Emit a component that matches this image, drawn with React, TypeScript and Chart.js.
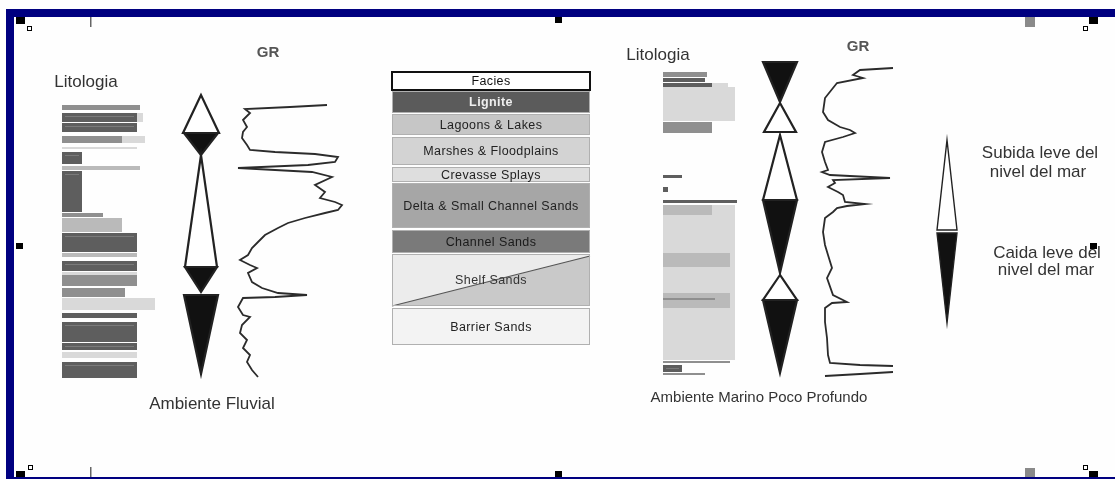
import { useEffect, useRef } from 'react';
import { Chart, registerables } from 'chart.js';

Chart.register(...registerables);

const CANVAS_W = 1115;
const CANVAS_H = 479;

// Gamma-ray log, fluvial well: [GR reading (x), depth (y)]
const leftGR: [number, number][] = [
  [327, 105], [290, 107], [245, 109], [250, 113], [243, 120], [247, 127], [243, 132], [242, 138],
  [247, 145], [250, 150], [275, 152], [315, 154], [338, 157], [335, 162], [308, 165], [238, 168],
  [275, 170], [312, 172], [332, 177], [315, 185], [325, 192], [320, 198], [335, 202], [342, 205],
  [338, 210], [325, 213], [305, 218], [288, 223], [278, 228], [265, 235], [258, 242], [252, 248],
  [248, 255], [240, 260], [250, 265], [257, 268], [248, 273], [252, 282], [262, 288], [278, 293],
  [307, 295], [275, 297], [243, 298], [238, 307], [243, 315], [250, 317], [242, 325], [240, 333],
  [247, 340], [243, 348], [250, 355], [247, 362], [252, 370], [258, 377],
];

// Gamma-ray log, shallow marine well
const rightGR: [number, number][] = [
  [893, 68], [860, 70], [853, 75], [863, 78], [837, 83], [833, 88], [825, 98], [823, 112],
  [828, 120], [840, 127], [850, 130], [855, 133], [843, 137], [825, 142], [822, 152], [825, 162],
  [828, 170], [822, 172], [830, 175], [890, 178], [833, 180], [835, 183], [828, 187], [838, 192],
  [843, 195], [845, 202], [865, 204], [847, 206], [837, 208], [833, 212], [825, 218], [823, 232],
  [825, 245], [828, 255], [832, 268], [827, 278], [833, 295], [847, 302], [832, 303], [825, 308],
  [825, 322], [827, 338], [828, 355], [830, 363], [860, 365], [893, 366],
];
const rightGRBase: [number, number][] = [[825, 376], [860, 374], [893, 372]];

// Lithology beds: [top, base, extent, lithology class]
const leftLithoStart = 62;
const leftLitho: [number, number, number, string][] = [
  [105, 110, 140, 'M'], [113, 122, 143, 'V'], [113, 122, 137, 'D'], [123, 132, 137, 'D'],
  [136, 143, 145, 'V'], [136, 143, 122, 'M'], [147, 149, 137, 'V'], [152, 164, 82, 'D'],
  [166, 170, 140, 'L'], [171, 212, 82, 'D'], [213, 217, 103, 'M'], [218, 232, 122, 'L'],
  [233, 252, 137, 'D'], [253, 257, 137, 'L'], [261, 271, 137, 'D'], [272, 275, 137, 'V'],
  [275, 286, 137, 'M'], [288, 297, 125, 'M'], [298, 310, 155, 'V'], [313, 318, 137, 'D'],
  [322, 342, 137, 'D'], [343, 350, 137, 'D'], [352, 358, 137, 'V'], [362, 378, 137, 'D'],
];

const rightLithoStart = 663;
const rightLitho: [number, number, number, string][] = [
  [72, 77, 707, 'M'], [78, 82, 705, 'D'], [83, 87, 728, 'V'], [83, 87, 712, 'D'],
  [87, 121, 735, 'V'], [122, 133, 712, 'M'], [175, 178, 682, 'D'], [187, 192, 668, 'D'],
  [200, 203, 737, 'D'], [205, 360, 735, 'V'], [205, 215, 712, 'L'], [253, 267, 730, 'L'],
  [293, 308, 730, 'L'], [298, 300, 715, 'M'], [361, 363, 730, 'M'], [365, 372, 682, 'D'],
  [373, 375, 705, 'M'],
];

// Sea-level triangles: [apex, base, half-width, filled]
const leftTriangles: [number, number, number, boolean][] = [
  [95, 133, 18, false], [155, 133, 17, true], [155, 267, 16, false],
  [292, 267, 16, true], [374, 295, 17, true],
];
const rightTriangles: [number, number, number, boolean][] = [
  [102, 62, 17, true], [103, 132, 16, false], [135, 200, 17, false],
  [273, 200, 17, true], [275, 300, 17, false], [373, 300, 17, true],
];
const legendTriangles: [number, number, number, boolean][] = [
  [140, 230, 10, false], [323, 233, 10, true],
];

// Facies legend
const faciesNames = [
  'Facies', 'Lignite', 'Lagoons & Lakes', 'Marshes & Floodplains', 'Crevasse Splays',
  'Delta & Small Channel Sands', 'Channel Sands', 'Shelf Sands', 'Barrier Sands',
];
const faciesTop = [72, 91, 114, 137, 167, 183, 230, 254, 308];
const faciesBase = [90, 113, 135, 165, 182, 228, 253, 306, 345];

const shade: Record<string, string> = { D: '#5e5e5e', M: '#8f8f8f', L: '#bababa', V: '#d9d9d9' };
const faciesFill = ['#ffffff', '#5b5b5b', '#c6c6c6', '#d3d3d3', '#dedede', '#a6a6a6', '#7a7a7a', '#ebebeb', '#f3f3f3'];
const faciesText = ['#111', '#eeeeee', '#222', '#222', '#222', '#222', '#1a1a1a', '#333', '#222'];

const FONT = '"Liberation Sans", Arial, sans-serif';

const labels: { t: string; x: number; y: number; size: number; color: string; bold?: boolean }[] = [
  { t: 'GR', x: 268, y: 53, size: 15, color: '#555', bold: true },
  { t: 'GR', x: 858, y: 47, size: 15, color: '#555', bold: true },
  { t: 'Litologia', x: 86, y: 82, size: 17, color: '#333' },
  { t: 'Litologia', x: 658, y: 55, size: 17, color: '#333' },
  { t: 'Ambiente Fluvial', x: 212, y: 404, size: 17, color: '#333' },
  { t: 'Ambiente Marino Poco Profundo', x: 759, y: 398, size: 15, color: '#333' },
  { t: 'Subida leve del', x: 1040, y: 153, size: 17, color: '#333' },
  { t: 'nivel del mar', x: 1038, y: 172, size: 17, color: '#333' },
  { t: 'Caida leve del', x: 1047, y: 253, size: 17, color: '#333' },
  { t: 'nivel del mar', x: 1046, y: 270, size: 17, color: '#333' },
];

const diagramPlugin = {
  id: 'diagram',
  beforeDraw(chart: any) {
    const ctx = chart.ctx;
    ctx.save();
    ctx.fillStyle = '#fefefe';
    ctx.fillRect(0, 0, chart.width, chart.height);
    ctx.restore();
  },
  beforeDatasetsDraw(chart: any) {
    const ctx: CanvasRenderingContext2D = chart.ctx;
    const xs = chart.scales.x;
    const ys = chart.scales.y;
    const px = (v: number) => xs.getPixelForValue(v);
    const py = (v: number) => ys.getPixelForValue(v);
    ctx.save();

    const drawLitho = (start: number, beds: [number, number, number, string][]) => {
      for (const [top, base, ext, cls] of beds) {
        ctx.fillStyle = shade[cls];
        ctx.fillRect(px(start), py(top), px(ext) - px(start), py(base) - py(top));
        if (cls === 'D' && base - top > 6) {
          ctx.strokeStyle = 'rgba(150,150,150,0.5)';
          ctx.lineWidth = 1;
          ctx.beginPath();
          ctx.moveTo(px(start) + 3, py(top) + 3.5);
          ctx.lineTo(px(ext) - 3, py(top) + 3.5);
          ctx.stroke();
        }
      }
    };
    drawLitho(leftLithoStart, leftLitho);
    drawLitho(rightLithoStart, rightLitho);

    // facies legend
    const fx0 = px(392);
    const fx1 = px(590);
    for (let i = 0; i < faciesNames.length; i++) {
      const t = py(faciesTop[i]);
      const b = py(faciesBase[i]);
      if (i === 7) {
        ctx.fillStyle = '#ececec';
        ctx.fillRect(fx0, t, fx1 - fx0, b - t);
        ctx.fillStyle = '#c9c9c9';
        ctx.beginPath();
        ctx.moveTo(fx0, b);
        ctx.lineTo(fx1, py(256));
        ctx.lineTo(fx1, b);
        ctx.closePath();
        ctx.fill();
        ctx.strokeStyle = '#555';
        ctx.lineWidth = 1.2;
        ctx.beginPath();
        ctx.moveTo(fx0, b);
        ctx.lineTo(fx1, py(256));
        ctx.stroke();
      } else {
        ctx.fillStyle = faciesFill[i];
        ctx.fillRect(fx0, t, fx1 - fx0, b - t);
      }
      if (i === 0) {
        ctx.strokeStyle = '#111';
        ctx.lineWidth = 2;
        ctx.strokeRect(fx0, t, fx1 - fx0, b - t);
      } else {
        ctx.strokeStyle = '#b0b0b0';
        ctx.lineWidth = 1;
        ctx.strokeRect(fx0 + 0.5, t + 0.5, fx1 - fx0 - 1, b - t - 1);
      }
      ctx.fillStyle = faciesText[i];
      ctx.font = `${i === 1 ? 'bold ' : ''}12.5px ${FONT}`;
      ctx.textAlign = 'center';
      ctx.textBaseline = 'middle';
      (ctx as any).letterSpacing = '0.4px';
      ctx.fillText(faciesNames[i], (fx0 + fx1) / 2, (t + b) / 2 + 1);
      (ctx as any).letterSpacing = '0px';
    }

    // triangles
    const drawTri = (cx: number, tris: [number, number, number, boolean][], lw: number) => {
      for (const [apex, base, hw, filled] of tris) {
        ctx.beginPath();
        ctx.moveTo(px(cx), py(apex));
        ctx.lineTo(px(cx - hw), py(base));
        ctx.lineTo(px(cx + hw), py(base));
        ctx.closePath();
        ctx.fillStyle = filled ? '#111' : '#ffffff';
        ctx.fill();
        ctx.strokeStyle = '#222';
        ctx.lineWidth = lw;
        ctx.lineJoin = 'miter';
        ctx.stroke();
      }
    };
    drawTri(201, leftTriangles, 2.2);
    drawTri(780, rightTriangles, 2.2);
    drawTri(947, legendTriangles, 1.4);

    // labels
    ctx.textAlign = 'center';
    ctx.textBaseline = 'middle';
    for (const l of labels) {
      ctx.fillStyle = l.color;
      ctx.font = `${l.bold ? 'bold ' : ''}${l.size}px ${FONT}`;
      ctx.fillText(l.t, px(l.x), py(l.y));
    }
    ctx.restore();
  },
  afterDraw(chart: any) {
    const ctx: CanvasRenderingContext2D = chart.ctx;
    ctx.save();
    // window frame
    ctx.fillStyle = '#000080';
    ctx.fillRect(6, 9, CANVAS_W - 6, 8);
    ctx.fillRect(6, 9, 8, CANVAS_H - 9);
    ctx.fillRect(6, 477, CANVAS_W - 6, 2);
    // selection handles
    ctx.fillStyle = '#000';
    const solid = [[16, 17, 9, 7], [1089, 17, 9, 7], [16, 471, 9, 6], [1089, 471, 9, 6],
      [555, 17, 7, 6], [555, 471, 7, 6], [16, 243, 7, 6], [1090, 243, 7, 6]];
    for (const [a, b, w, h] of solid) ctx.fillRect(a, b, w, h);
    ctx.strokeStyle = '#000';
    ctx.lineWidth = 1;
    const hollow = [[27.5, 26.5], [1083.5, 26.5], [28.5, 465.5], [1083.5, 465.5]];
    for (const [a, b] of hollow) ctx.strokeRect(a, b, 4, 4);
    ctx.fillStyle = '#666';
    ctx.fillRect(90, 17, 1.5, 10);
    ctx.fillRect(90, 467, 1.5, 10);
    ctx.fillStyle = '#8a8a8a';
    ctx.fillRect(1025, 17, 10, 10);
    ctx.fillRect(1025, 468, 10, 9);
    ctx.restore();
  },
};

export default function App() {
  const ref = useRef<HTMLCanvasElement | null>(null);
  useEffect(() => {
    if (!ref.current) return;
    const toPts = (a: [number, number][]) => a.map(([x, y]) => ({ x, y }));
    const lineStyle = {
      showLine: true,
      pointRadius: 0,
      borderColor: '#2b2b2b',
      borderWidth: 1.8,
      tension: 0,
      fill: false,
    };
    const chart = new Chart(ref.current, {
      type: 'scatter',
      data: {
        datasets: [
          { label: 'GR fluvial', data: toPts(leftGR), ...lineStyle },
          { label: 'GR marino', data: toPts(rightGR), ...lineStyle },
          { label: 'GR marino base', data: toPts(rightGRBase), ...lineStyle },
        ],
      },
      options: {
        responsive: false,
        animation: false,
        events: [],
        layout: { padding: 0 },
        scales: {
          x: { type: 'linear', min: 0, max: CANVAS_W, display: false },
          y: { type: 'linear', min: 0, max: CANVAS_H, reverse: true, display: false },
        },
        plugins: { legend: { display: false }, tooltip: { enabled: false } },
      },
      plugins: [diagramPlugin],
    } as any);
    return () => chart.destroy();
  }, []);
  return (
    <div style={{ position: 'fixed', left: 0, top: 0, width: CANVAS_W, height: CANVAS_H, background: '#fff' }}>
      <canvas ref={ref} width={CANVAS_W} height={CANVAS_H} style={{ display: 'block' }} />
    </div>
  );
}
